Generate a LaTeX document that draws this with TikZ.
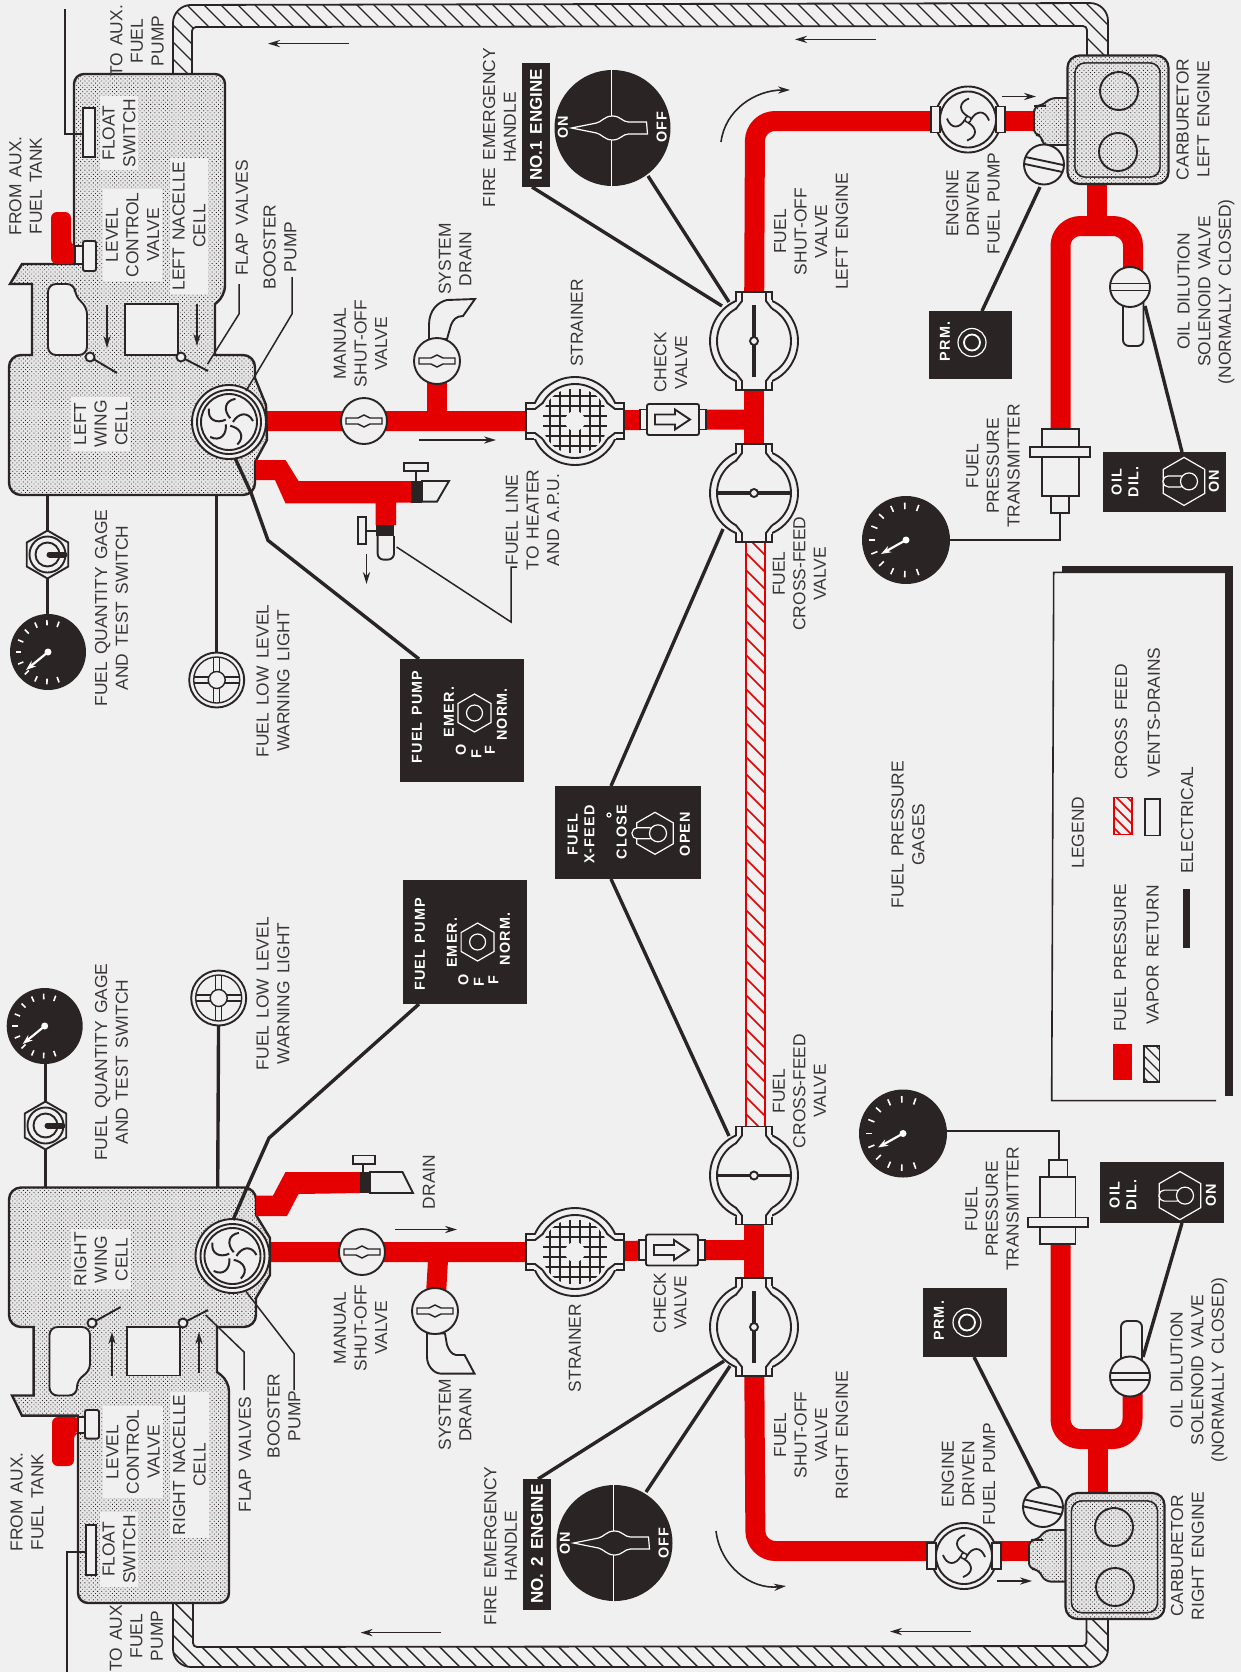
\documentclass[tikz,border=0pt]{standalone}
\usepackage{fontspec}
\setmainfont{Liberation Sans}[WordSpace=1.5]
\newfontfamily\panelfont{Liberation Sans}[LetterSpace=8,WordSpace=1.3]
\usetikzlibrary{arrows.meta,patterns.meta}
\definecolor{bg}{HTML}{F0F0F0}
\definecolor{fuelred}{HTML}{E40000}
\definecolor{ink}{HTML}{2A2425}
\definecolor{txt}{HTML}{3A3638}
\definecolor{tankgray}{HTML}{E6E6E6}
\tikzset{
 lbl/.style={rotate=90,align=center,font=\fontsize{8.7}{10.3}\selectfont,text=txt,inner sep=0pt},
 halo/.style={lbl,fill=bg,inner sep=1.5pt},
 wlbl/.style={rotate=90,align=center,font=\panelfont\fontsize{7.2}{8.4}\selectfont\bfseries,text=white,inner sep=0pt},
 panel/.style={fill=ink,inner sep=0pt},
 fuel/.style={draw=fuelred,line width=10pt,line join=round},
 ol/.style={draw=ink,line width=.95pt},
 olt/.style={draw=ink,line width=.7pt},
 stipple/.style={fill=tankgray,postaction={pattern={Dots[distance=1.5pt,radius=.3pt,angle=45]},pattern color=ink}},
 tank/.style={draw=ink,line width=1.2pt,stipple},
 wirel/.style={draw=ink,line width=1.7pt},
 lead/.style={draw=ink,line width=.75pt},
 flow/.style={draw=ink,line width=.8pt,-{Stealth[length=6pt,width=3.6pt]}},
 wht/.style={draw=white,line width=.6pt}
}
% floating arrow between two named coordinates
\newcommand{\flowarrow}[3]{\coordinate (#1a) at (#2);\coordinate (#1b) at (#3);\draw[flow] (#1a) -- (#1b);}
% double-walled round body with necks top and bottom
\newcommand{\vbody}{%
 \draw[ol,fill=bg] (0,0) circle[radius=44];
 \draw[ol] (0,0) circle[radius=37];
 \foreach \s in {1,-1}{\begin{scope}[yscale=\s]
  \fill[bg] (-17.5,-49) rectangle (17.5,-30);
  \draw[ol] (-18,-41)--(-18,-49)--(18,-49)--(18,-41);
  \draw[ol] (-12,-49)--(-12,-40)--(-18,-32.3);
  \draw[ol] (12,-49)--(12,-40)--(18,-32.3);
 \end{scope}}}
\newcommand{\bigvalve}[2]{\begin{scope}[shift={(#1)}]\vbody
 \begin{scope}[rotate=#2]\draw[draw=ink,line width=1.9pt] (0,-36)--(0,36);\end{scope}
 \draw[ol,fill=bg] (0,0) circle[radius=4];\end{scope}}
\newcommand{\strainer}[1]{\begin{scope}[shift={(#1)},rotate=90]\vbody\end{scope}
 \begin{scope}[shift={(#1)}]\clip (0,0) circle[radius=33];
 \foreach \k in {-25,-15,-5,5,15,25}{\draw[draw=ink,line width=.9pt] (-32,\k)--(32,\k);\draw[draw=ink,line width=.9pt] (\k,-32)--(\k,32);}
 \fill[bg] (0,0) circle[radius=10];\end{scope}}
\newcommand{\fanpump}[1]{\begin{scope}[shift={(#1)}]
 \draw[ol,fill=bg] (0,0) circle[radius=37];
 \draw[ol] (0,0) circle[radius=32];
 \draw[ol] (0,0) circle[radius=28];
 \foreach \a in {0,72,144,216,288}{\draw[draw=ink,line width=1pt,rotate=\a] (4,0) .. controls (9,-9) and (19,-11) .. (24,-1);}
 \end{scope}}
\newcommand{\engpump}[1]{\begin{scope}[shift={(#1)}]
 \draw[ol,fill=bg] (0,0) circle[radius=33];
 \draw[ol] (0,0) circle[radius=28];
 \draw[olt,fill=bg] (-37,-13) rectangle (-28,13);
 \draw[olt,fill=bg] (28,-13) rectangle (37,13);
 \foreach \a in {0,90,180,270}{\draw[draw=ink,line width=.9pt,rotate=\a] (3,0) .. controls (8,-9) and (17,-10) .. (21,1);}
 \draw[olt,fill=bg] (0,0) circle[radius=3];
 \end{scope}}
\newcommand{\manvalve}[1]{\begin{scope}[shift={(#1)}]
 \draw[ol,fill=bg] (0,0) circle[radius=23];
 \draw[olt] (-18,-3)--(-6,-3)..controls (-3,-3) and (-3,-6)..(0,-6)..controls (3,-6) and (3,-3)..(6,-3)--(18,-3)--(18,3)--(6,3)..controls (3,3) and (3,6)..(0,6)..controls (-3,6) and (-3,3)..(-6,3)--(-18,3)--cycle;
 \end{scope}}
\newcommand{\solenoid}[2]{\begin{scope}[shift={(#1)},rotate=#2]
 \draw[ol,fill=bg] (0,0) circle[radius=20];
 \draw[ol] (-20,-3.5)--(20,-3.5);\draw[ol] (-20,3.5)--(20,3.5);
 \end{scope}}
\newcommand{\gauge}[3]{\begin{scope}[shift={(#1)}]
 \fill[ink] (0,0) circle[radius=#2];
 \foreach \a in {70,92,114,136,158,180,202,224,246,268,290}{\draw[draw=white,line width=.8pt] ({-\a}:{0.7*#2})--({-\a}:{0.85*#2});}
 \draw[draw=white,line width=1.1pt,-{Stealth[length=5pt,width=3.5pt]}] (0,0)--(#3);
 \fill[white] (0,0) circle[radius=3.5];
 \end{scope}}
\newcommand{\hexknob}[2]{\begin{scope}[shift={(#1)}]
 \draw[wht] (90:#2)--(150:#2)--(210:#2)--(270:#2)--(330:#2)--(30:#2)--cycle;
 \end{scope}}
% toggle lever inside a hexagon: centre of the collar given
\newcommand{\lever}[1]{\begin{scope}[shift={(#1)}]
 \draw[wht,fill=ink,rounded corners=2.6pt] (-26,-5.5) rectangle (-3,5.5);
 \draw[wht,fill=ink] (0,0) circle[radius=8.5];
 \end{scope}}
\newcommand{\togglesw}[1]{\begin{scope}[shift={(#1)}]
 \draw[ol,fill=bg] (90:24)--(150:24)--(210:24)--(270:24)--(330:24)--(30:24)--cycle;
 \draw[ol] (0,0) circle[radius=18];\draw[ol] (0,0) circle[radius=12];
 \draw[draw=ink,line width=3pt,line cap=round] (2,0)--(17,0);
 \end{scope}}
\newcommand{\lowlight}[1]{\begin{scope}[shift={(#1)}]
 \draw[ol,fill=bg] (0,0) circle[radius=27.5];
 \draw[olt] (0,0) circle[radius=23];
 \foreach \k in {-3,3}{\draw[olt] (-23,\k)--(23,\k);\draw[olt] (\k,-23)--(\k,23);}
 \draw[olt,fill=bg] (0,0) circle[radius=8.5];
 \end{scope}}
\newcommand{\firehandle}[1]{\begin{scope}[shift={(#1)}]
 \fill[ink] (0,0) circle[radius=58];
 \draw[draw=white,line width=.6pt] (-1,-58)--(-1,58);
 \draw[wht,fill=ink] (-41,0)--(-16,-5)..controls (-11,-6) and (-8,-12)..(0,-12)..controls (8,-12) and (10,-6)..(16,-6)--(34,-6)--(35,6)--(16,6)..controls (10,6) and (8,12)..(0,12)..controls (-8,12) and (-11,6)..(-16,5)--cycle;
 \end{scope}}
\newcommand{\checkv}[1]{\begin{scope}[shift={(#1)}]
 \draw[olt,fill=bg] (-33,-10) rectangle (33,10);
 \draw[ol,fill=bg,rounded corners=1pt] (-26,-15.5) rectangle (26,15.5);
 \draw[ol,fill=bg] (-18,-5)--(2,-5)--(2,-10)--(17,0)--(2,10)--(2,5)--(-18,5)--cycle;
 \end{scope}}
\begin{document}
\begin{tikzpicture}[x=0.5pt,y=-0.5pt]
\useasboundingbox (0,0) rectangle (1241,1672);
\fill[bg] (0,0) rectangle (1241,1672);
% ---------- coordinates of the components
\coordinate (boosterL) at (229,422);\coordinate (boostpL) at (229,421);\coordinate (manualL) at (364,421);\coordinate (sysvL) at (437,361);
\coordinate (strainL) at (575,421);\coordinate (checkL) at (673,419.5);\coordinate (juncL) at (755,419.5);
\coordinate (shutL) at (754,341);\coordinate (xvalL) at (754,493);\coordinate (cornerL) at (755,121);
\coordinate (epumpL) at (968,121);\coordinate (epumpLb) at (968,119.5);\coordinate (cneckL) at (1037,121);
\coordinate (cbotL) at (1096.5,184);\coordinate (cforkL) at (1096.5,226);\coordinate (xmtrL) at (1060.5,435);
\coordinate (fkLa) at (1060.5,226);\coordinate (fkLb) at (1133,226);\coordinate (oilvL) at (1130,287);\coordinate (oilpL) at (1133,287);
\coordinate (primeL) at (1044,164.5);
\coordinate (boosterR) at (232.5,1256);\coordinate (boostpR) at (232.5,1252);\coordinate (manualR) at (362,1252);\coordinate (sysvR) at (435,1311);
\coordinate (strainR) at (575,1252);\coordinate (checkR) at (672,1250);\coordinate (juncR) at (755.5,1250);
\coordinate (shutR) at (754,1327);\coordinate (xvalR) at (754,1175.5);\coordinate (cornerR) at (755.5,1551);
\coordinate (epumpR) at (964,1551);\coordinate (epumpRb) at (964,1556);\coordinate (cneckR) at (1033,1551);
\coordinate (cbotR) at (1097.5,1493);\coordinate (cforkR) at (1097.5,1439);\coordinate (xmtrR) at (1060.5,1240);
\coordinate (fkRa) at (1060.5,1439);\coordinate (fkRb) at (1132.5,1439);\coordinate (oilvR) at (1130,1376.5);\coordinate (oilpR) at (1132.5,1376.5);
\coordinate (primeR) at (1043,1507);
\coordinate (sysjL) at (437,421);\coordinate (sysjR) at (438.5,1252);
% ---------- vapour return
\newcommand{\vapU}{(173,74) [rounded corners=9pt] -- (173,5) -- (1108,3) [rounded corners=0pt] -- (1108,57) -- (1087,57) [rounded corners=2pt] -- (1087,26) -- (192,27) [rounded corners=0pt] -- (192,74) -- cycle}
\newcommand{\vapD}{(173,1600) [rounded corners=9pt] -- (173,1667) -- (1108,1667) [rounded corners=0pt] -- (1108,1615) -- (1086.5,1615) [rounded corners=2pt] -- (1086.5,1646) -- (193,1647) [rounded corners=0pt] -- (193,1600) -- cycle}
\begin{scope}\clip \vapU;
 \foreach \i in {60,77,...,1120}{\draw[olt] (\i,-20)--(\i+100,80);}
\end{scope}
\draw[olt,draw=ink,line width=.9pt] \vapU;
\begin{scope}\clip \vapD;
 \foreach \i in {60,77,...,1120}{\draw[olt] (\i,1590)--(\i+90,1680);}
\end{scope}
\draw[olt,draw=ink,line width=.9pt] \vapD;
% ---------- cross feed
\begin{scope}\clip (746,540) rectangle (765,1128);
 \foreach \i in {540,557,...,1130}{\draw[draw=fuelred,line width=.8pt] (740,\i-10)--(770,\i+20);}
\end{scope}
\draw[draw=fuelred,line width=.9pt] (746,540) rectangle (765,1128);
% ---------- fuel lines
\draw[fuel] (boostpL) -- (manualL) -- (strainL) -- (checkL) -- (juncL);
\draw[fuel] (sysjL) -- (sysvL);
\draw[fuel] (xvalL) -- (shutL);
\draw[fuel,rounded corners=10pt] (shutL) -- (cornerL) -- (epumpL);
\draw[fuel] (epumpL) -- (cneckL);
\draw[fuel] (cbotL) -- (cforkL);
\draw[fuel,rounded corners=10pt] (xmtrL) -- (fkLa) -- (fkLb) -- (oilpL);
\draw[fuel] (boostpR) -- (manualR) -- (strainR) -- (checkR) -- (juncR);
\draw[fuel] (sysjR) -- (sysvR);
\draw[fuel] (xvalR) -- (shutR);
\draw[fuel,rounded corners=10pt] (shutR) -- (cornerR) -- (epumpR);
\draw[fuel] (epumpR) -- (cneckR);
\draw[fuel] (cbotR) -- (cforkR);
\draw[fuel,rounded corners=10pt] (xmtrR) -- (fkRa) -- (fkRb) -- (oilpR);
% ---------- tanks, left
\path[tank,rounded corners=5pt] (74,264)--(74,74)--(225,74)--(225,296)[rounded corners=0pt]--(215,304)--(215,355)[rounded corners=6pt]--(255,355)[rounded corners=0pt]--(255,378)--(266,405)--(267,440)--(255,462)[rounded corners=6pt]--(255,495)--(9,495)--(9,355)[rounded corners=0pt]--(32,355)--(32,284)--(10,284)--(22,264)--cycle;
\draw[ol,fill=bg,rounded corners=4pt] (48,355)--(48,284)--(75,284)--(75,297)--(87,306)--(87,355)--cycle;
\draw[ol,fill=bg] (125,304) rectangle (178,355);
\flowarrow{fa1}{107,305}{107,348}
\flowarrow{fa2}{197,304}{197,346}
% tanks, right
\path[tank,rounded corners=5pt] (78,1415.6)--(78,1603)--(229,1603)--(229,1381)[rounded corners=0pt]--(217,1372)--(217,1327)[rounded corners=6pt]--(256,1327)[rounded corners=0pt]--(256,1298)--(270,1275)--(270,1238)--(256,1215)[rounded corners=6pt]--(256,1187.5)--(9,1187.5)--(9,1327)[rounded corners=0pt]--(33.6,1327)--(33.6,1395.5)--(12,1395.5)--(22,1415.6)--cycle;
\draw[ol,fill=bg,rounded corners=4pt] (49.5,1327)--(49.5,1395.5)--(77,1395.5)--(77,1379)--(90,1372)--(90,1327)--cycle;
\draw[ol,fill=bg] (127,1327) rectangle (180,1375.5);
\flowarrow{fa3}{112,1375.5}{112,1332}
\flowarrow{fa4}{199,1373}{199,1332}
% flap valves
\coordinate (flA) at (90,357);\coordinate (flAe) at (117,373);\coordinate (flB) at (181,357);\coordinate (flBe) at (208,371);
\coordinate (flC) at (92,1323);\coordinate (flCe) at (120.6,1307);\coordinate (flD) at (183,1323);\coordinate (flDe) at (208,1310);
\foreach \p/\q in {flA/flAe,flB/flBe,flC/flCe,flD/flDe}{\draw[ol] (\p)--(\q);\draw[ol,fill=bg] (\p) circle[radius=4.5];}
% float switches, level valves
\draw[ol,fill=bg] (83,108) rectangle (95,157);
\draw[ol,fill=bg] (86,1525) rectangle (96,1575);
\coordinate (flsL) at (83,134);\coordinate (flsLc) at (64.5,134);\coordinate (flsLe) at (64.5,9);
\draw[ol,draw=ink,line width=1pt] (flsL)--(flsLc)--(flsLe);
\coordinate (flsR) at (86,1552.4);\coordinate (flsRc) at (67,1552.4);\coordinate (flsRe) at (67,1672);
\draw[ol,draw=ink,line width=1pt] (flsR)--(flsRc)--(flsRe);
\fill[fuelred,rounded corners=3pt] (51,212)--(51,264)--(76,264)--(76,246)--(71,246)--(71,212)--cycle;
\draw[ol,fill=bg] (75,246) rectangle (83,264);
\draw[ol,fill=bg,rounded corners=1pt] (83,241) rectangle (96,271);
\fill[fuelred,rounded corners=3pt] (52,1466)--(52,1417)--(80,1417)--(80,1433)--(74,1433)--(74,1466)--cycle;
\draw[ol,fill=bg] (78,1417) rectangle (85,1433);
\draw[ol,fill=bg,rounded corners=1pt] (85,1410) rectangle (99,1438.6);
% ---------- drains
\fill[fuelred] (256,460)--(285.5,460)--(298.5,481)--(411,481)--(411,502.5)--(396,502.5)--(396,525)--(375.6,525)--(375.6,503.4)--(285.5,503.4)--(275,480)--(256,480)--cycle;
\fill[ink] (411,481) rectangle (422,502.5);
\fill[ink] (375.6,525) rectangle (394,536);
\draw[ol,fill=bg] (422,481)--(449,481)--(437,501.6)--(422,501.6)--cycle;
\draw[ol] (416,481)--(416,471);\draw[ol,fill=bg] (404,463) rectangle (428,471);
\draw[ol,fill=bg,rounded corners=3pt] (377.6,536)--(377.6,559.6)--(394,559.6)--(394,536);
\draw[ol] (375.6,530.6)--(366,530.6);\draw[ol,fill=bg] (358,517) rectangle (366,543.6);
\fill[fuelred] (256,1195.6)--(273,1195.6)--(285.5,1172)--(360,1172)--(360,1193)--(298.5,1194)--(287,1216)--(256,1216)--cycle;
\fill[ink] (360,1172) rectangle (370,1193);
\draw[ol,fill=bg] (370,1172)--(402.5,1172)--(413,1193)--(370,1193)--cycle;
\draw[ol] (363,1172)--(363,1164);\draw[ol,fill=bg] (353,1155.5) rectangle (375,1164);
\draw[ol,fill=bg] (429,339)--(429,325)..controls (429,310) and (438,302)..(447,300)--(475,299)--(463,316)..controls (456,316) and (453,320)..(451,325)--(447,339)--cycle;
\draw[ol,fill=bg] (427,1333.5)--(427,1357)..controls (427,1366) and (434,1373.6)..(441,1373.6)--(474.5,1373.6)--(464.6,1355)--(456,1355)..controls (451,1354) and (449,1350)..(447,1345)--(445,1333.5)--cycle;
% ---------- components
\fanpump{boosterL}\fanpump{boosterR}
\manvalve{manualL}\manvalve{manualR}\manvalve{sysvL}\manvalve{sysvR}
\strainer{strainL}\strainer{strainR}
\checkv{checkL}\checkv{checkR}
\bigvalve{shutL}{0}\bigvalve{xvalL}{90}\bigvalve{shutR}{0}\bigvalve{xvalR}{90}
\engpump{epumpLb}\engpump{epumpRb}
% carburetors
\path[ol,stipple,rounded corners=3pt] (1040,106)--(1034,106)--(1034,135)--(1042,135)--(1042,145)--(1075,145)--(1075,98)--(1050,98)--(1042,106)--cycle;
\path[draw=ink,line width=1.1pt,stipple,rounded corners=6pt] (1067.5,55.5) rectangle (1168.5,184);
\draw[olt,fill=tankgray,rounded corners=5pt] (1075,63) rectangle (1160,177);
\path[olt,stipple,rounded corners=5pt] (1075,63) rectangle (1160,177);
\draw[ol] (1119,91) circle[radius=19];\draw[ol] (1118,152) circle[radius=19];
\path[ol,stipple,rounded corners=3pt] (1037,1540)--(1029,1540)--(1029,1569)--(1038,1569)--(1045,1581.6)--(1072,1581.6)--(1072,1530)--(1045,1530)--(1038,1540)--cycle;
\path[draw=ink,line width=1.1pt,stipple,rounded corners=6pt] (1065.5,1493) rectangle (1164.5,1619);
\draw[olt,fill=tankgray,rounded corners=5pt] (1071.5,1501) rectangle (1157.5,1612.6);
\path[olt,stipple,rounded corners=5pt] (1071.5,1501) rectangle (1157.5,1612.6);
\draw[ol] (1114,1527) circle[radius=19];\draw[ol] (1115,1587) circle[radius=19];
\solenoid{primeL}{-12}\solenoid{primeR}{-12}
% oil dilution valves
\draw[ol,fill=bg,rounded corners=3pt] (1123,300)--(1123,346)--(1143.5,346)--(1143.5,300);
\solenoid{oilvL}{0}
\draw[ol,fill=bg,rounded corners=3pt] (1121,1365)--(1121,1321)--(1142,1321)--(1142,1365);
\solenoid{oilvR}{0}
% transmitters
\draw[ol,fill=bg] (1051,496) rectangle (1069,513);
\draw[ol,fill=bg] (1042,429) rectangle (1079,496);
\draw[ol,fill=bg] (1030,447) rectangle (1090,457);
\draw[ol,fill=bg] (1049,1160) rectangle (1067.5,1177);
\draw[ol,fill=bg] (1040,1177) rectangle (1075.5,1244);
\draw[ol,fill=bg] (1028,1217.5) rectangle (1088,1227);
% ---------- panels
\node[panel,minimum width=41.5pt,minimum height=34pt] (prmL) at (970.5,345) {};
\node[panel,minimum width=42pt,minimum height=34.5pt] (prmR) at (965,1322.5) {};
\node[panel,minimum width=61.5pt,minimum height=30.2pt] (oilL) at (1164.5,482) {};
\node[panel,minimum width=62pt,minimum height=30.5pt] (oilR) at (1162,1192.5) {};
\node[panel,minimum width=62pt,minimum height=61.5pt] (fpL) at (462,720.5) {};
\node[panel,minimum width=62pt,minimum height=62pt] (fpR) at (465,942) {};
\node[panel,minimum width=73pt,minimum height=46.5pt] (xfeed) at (628,832.5) {};
\draw[wht] (972,342.5) circle[radius=14];\draw[draw=white,line width=.9pt] (972,342.5) circle[radius=8];
\draw[wht] (967,1322.5) circle[radius=14];\draw[draw=white,line width=.9pt] (967,1322.5) circle[radius=8];
\node[wlbl] (tprmL) at (945,341.5) {PRM.};
\node[wlbl] (tprmR) at (939,1320.7) {PRM.};
\node[wlbl] (toilL) at (1125,482) {OIL\\DIL.};
\node[wlbl] (toilR) at (1123,1195) {OIL\\DIL.};
\node[wlbl] (tonL) at (1214,481) {ON};
\node[wlbl] (tonR) at (1211,1195) {ON};
\hexknob{1184,481.4}{24}\hexknob{1180,1195.6}{24}\hexknob{655,833.3}{21}
\lever{1189,481.4}\lever{1185,1195.6}\lever{658,833.3}
\node[wlbl] (tfxa) at (581,834.5) {FUEL\\X-FEED};
\node[wlbl] (tfxb) at (621.7,832.3) {CLOSE};
\node[wlbl] (tfxc) at (685,834) {OPEN};
\draw[wht] (609,815) circle[radius=2];
\hexknob{474.5,713}{19}\hexknob{477.6,942}{19}
\draw[wht] (474.5,713) circle[radius=8];\draw[wht] (477.6,942) circle[radius=8];
\node[wlbl] (tfpLa) at (417,717) {FUEL PUMP};
\node[wlbl] (tfpLb) at (449,712) {EMER.};
\node[wlbl] (tfpLc) at (502,714.5) {NORM.};
\node[wlbl] (tfpLd) at (461,750) {O};\node[wlbl] (tfpLe) at (476.5,754) {F};\node[wlbl] (tfpLf) at (490,750) {F};
\node[wlbl] (tfpRa) at (420,944.5) {FUEL PUMP};
\node[wlbl] (tfpRb) at (452,942.7) {EMER.};
\node[wlbl] (tfpRc) at (505,938.7) {NORM.};
\node[wlbl] (tfpRd) at (463.4,980) {O};\node[wlbl] (tfpRe) at (479,982.4) {F};\node[wlbl] (tfpRf) at (493.5,980) {F};
\firehandle{612.5,128}\firehandle{614.5,1543}
\node[wlbl] (onL) at (563,127) {ON};\node[wlbl] (ofL) at (661.7,127) {OFF};
\node[wlbl] (onR) at (565,1543) {ON};\node[wlbl] (ofR) at (663.7,1543) {OFF};
\node[panel,rotate=90,minimum width=62pt,minimum height=14pt,text=white,font=\fontsize{8.5}{10}\selectfont\bfseries] (no1) at (536,125) {NO.1 ENGINE};
\node[panel,rotate=90,minimum width=65.5pt,minimum height=14pt,text=white,font=\fontsize{8.5}{10}\selectfont\bfseries] (no2) at (537,1544) {NO. 2 ENGINE};
% ---------- gauges and lamps
\gauge{906,540}{44}{-25,14}\gauge{903,1133.5}{44}{-25,14}
\gauge{48,652}{38}{-22,18}\gauge{44.7,1026}{38}{-22,18}
\coordinate (gfpL) at (949,540);\coordinate (xbL) at (1060,513);\coordinate (xcL) at (1060,540);
\draw[draw=ink,line width=1.2pt] (gfpL)--(xcL)--(xbL);
\coordinate (gfpR) at (946,1131);\coordinate (xbR) at (1059,1160);\coordinate (xcR) at (1059,1131);
\draw[draw=ink,line width=1.2pt] (gfpR)--(xcR)--(xbR);
\coordinate (qtL) at (47.5,495);\coordinate (qgL) at (47.5,620);
\coordinate (qtR) at (45.5,1187.5);\coordinate (qgR) at (45.5,1060);
\draw[draw=ink,line width=1.5pt] (qtL)--(qgL);\draw[draw=ink,line width=1.5pt] (qtR)--(qgR);
\coordinate (tgL) at (47.5,554.5);\coordinate (tgR) at (45.5,1125.5);
\togglesw{tgL}\togglesw{tgR}
\coordinate (lwL) at (216.7,680);\coordinate (lwR) at (218.7,998);
\coordinate (ltL) at (216.7,495);\coordinate (ltR) at (217.7,1187.5);
\draw[wirel] (ltL)--(lwL);\draw[wirel] (ltR)--(lwR);
\lowlight{lwL}\lowlight{lwR}
% ---------- wires
\coordinate (w1a) at (235,458);\coordinate (w1b) at (251,492.7);\coordinate (w1c) at (268,540.4);\coordinate (w1d) at (419,659);
\draw[wirel,line join=round] (w1a)--(w1b)--(w1c)--(w1d);
\coordinate (w2a) at (233,1220);\coordinate (w2b) at (247,1187.5);\coordinate (w2c) at (269,1138);\coordinate (w2d) at (419,1004);
\draw[wirel,line join=round] (w2a)--(w2b)--(w2c)--(w2d);
\coordinate (w3a) at (723,529);\coordinate (w3b) at (611,786);\draw[wirel] (w3a)--(w3b);
\coordinate (w4a) at (729,1136);\coordinate (w4b) at (611,879);\draw[wirel] (w4a)--(w4b);
\coordinate (w5a) at (532,187);\coordinate (w5b) at (722,306);\draw[wirel] (w5a)--(w5b);
\coordinate (w6a) at (648,176);\coordinate (w6b) at (729,302);\draw[wirel] (w6a)--(w6b);
\coordinate (w7a) at (538,1479);\coordinate (w7b) at (724,1361);\draw[wirel] (w7a)--(w7b);
\coordinate (w8a) at (646,1492);\coordinate (w8b) at (730,1366);\draw[wirel] (w8a)--(w8b);
\coordinate (w9a) at (1040,187);\coordinate (w9b) at (982,311);\draw[wirel] (w9a)--(w9b);
\coordinate (w10a) at (1145,306);\coordinate (w10b) at (1182,452);\draw[wirel] (w10a)--(w10b);
\coordinate (w11a) at (974,1357);\coordinate (w11b) at (1040,1487);\draw[wirel] (w11a)--(w11b);
\coordinate (w12a) at (1143,1357);\coordinate (w12b) at (1182,1223);\draw[wirel] (w12a)--(w12b);
% leaders
\coordinate (ld1a) at (246,391);\coordinate (ld1b) at (292,314);\coordinate (ld1c) at (292,277);\draw[lead] (ld1a)--(ld1b)--(ld1c);
\coordinate (ld2a) at (207.6,364);\coordinate (ld2b) at (239,314);\coordinate (ld2c) at (239,284);\draw[lead] (ld2a)--(ld2b)--(ld2c);
\coordinate (ld3a) at (246,1291.5);\coordinate (ld3b) at (294,1353.5);\coordinate (ld3c) at (294,1390);\draw[lead] (ld3a)--(ld3b)--(ld3c);
\coordinate (ld4a) at (205.6,1315);\coordinate (ld4b) at (244,1352);\coordinate (ld4c) at (244,1390);\draw[lead] (ld4a)--(ld4b)--(ld4c);
\coordinate (ld5a) at (396.6,547);\coordinate (ld5b) at (511,622);\coordinate (ld5c) at (511,567);\coordinate (ld5d) at (517,567);\draw[lead] (ld5a)--(ld5b)--(ld5c)--(ld5d);
% ---------- arrows
\flowarrow{ar1}{349,43.6}{268,43.6}
\flowarrow{ar2}{875.5,39.4}{795,39.4}
\flowarrow{ar3}{441,1632.6}{360.6,1632.6}
\flowarrow{ar4}{970.5,1631.5}{890,1631.5}
\flowarrow{ar5}{419,440}{496,440}
\flowarrow{ar6}{395,1229.5}{457,1229.5}
\flowarrow{ar7}{1002,96.5}{1036,96.5}
\flowarrow{ar8}{997,1581}{1032,1581}
\flowarrow{ar9}{366.5,554}{366.5,584}
\coordinate (ca1) at (721,142);\coordinate (ca2) at (790,90);
\draw[flow] (ca1) .. controls (725,110) and (755,90) .. (ca2);
\coordinate (ca3) at (716,1531);\coordinate (ca4) at (786,1586);
\draw[flow] (ca3) .. controls (720,1565) and (750,1590) .. (ca4);
% ---------- labels in the tanks
\node[halo] (l1) at (119,133) {FLOAT\\SWITCH};
\node[halo] (l2) at (132.5,235) {LEVEL\\CONTROL\\VALVE};
\node[halo] (l3) at (189,226) {LEFT NACELLE\\CELL};
\node[halo] (l4) at (100.8,424) {LEFT\\WING\\CELL};
\node[halo] (l5) at (119,1549.5) {FLOAT\\SWITCH};
\node[halo] (l6) at (133,1452) {LEVEL\\CONTROL\\VALVE};
\node[halo] (l7) at (189.4,1465) {RIGHT NACELLE\\CELL};
\node[halo] (l8) at (101,1259.4) {RIGHT\\WING\\CELL};
% ---------- labels
\node[lbl] (t1) at (137,41) {TO AUX.\\FUEL\\PUMP};
\node[lbl] (t2) at (25.7,186) {FROM AUX.\\FUEL TANK};
\node[lbl] (t3) at (242,218) {FLAP VALVES};
\node[lbl] (t4) at (280,247) {BOOSTER\\PUMP};
\node[lbl] (t5) at (360.6,343.6) {MANUAL\\SHUT-OFF\\VALVE};
\node[lbl] (t6) at (455,259) {SYSTEM\\DRAIN};
\node[lbl] (t7) at (577,323) {STRAINER};
\node[lbl] (t8) at (499.4,127.6) {FIRE EMERGENCY\\HANDLE};
\node[lbl] (t9) at (532.6,520) {FUEL LINE\\TO HEATER\\AND A.P.U.};
\node[lbl] (t10) at (111.5,608) {FUEL QUANTITY GAGE\\AND TEST SWITCH};
\node[lbl] (t11) at (273,681) {FUEL LOW LEVEL\\WARNING LIGHT};
\node[lbl] (t12) at (111.5,1062) {FUEL QUANTITY GAGE\\AND TEST SWITCH};
\node[lbl] (t13) at (273,993.6) {FUEL LOW LEVEL\\WARNING LIGHT};
\node[lbl] (t14) at (799.4,573.6) {FUEL\\CROSS-FEED\\VALVE};
\node[lbl] (t15) at (799.4,1091) {FUEL\\CROSS-FEED\\VALVE};
\node[lbl] (t16) at (811,231.5) {FUEL\\SHUT-OFF\\VALVE\\LEFT ENGINE};
\node[lbl] (t17) at (670.7,362.4) {CHECK\\VALVE};
\node[lbl] (t18) at (973,203.6) {ENGINE\\DRIVEN\\FUEL PUMP};
\node[lbl] (t19) at (1193,119.4) {CARBURETOR\\LEFT ENGINE};
\node[lbl] (t20) at (1206,291.6) {OIL DILUTION\\SOLENOID VALVE\\(NORMALLY CLOSED)};
\node[lbl] (t21) at (993,466) {FUEL\\PRESSURE\\TRANSMITTER};
\node[lbl] (t22) at (992,1209) {FUEL\\PRESSURE\\TRANSMITTER};
\node[lbl] (t23) at (1199,1370) {OIL DILUTION\\SOLENOID VALVE\\(NORMALLY CLOSED)};
\node[lbl] (t24) at (811,1435) {FUEL\\SHUT-OFF\\VALVE\\RIGHT ENGINE};
\node[lbl] (t25) at (968.5,1474) {ENGINE\\DRIVEN\\FUEL PUMP};
\node[lbl] (t26) at (1187.5,1556) {CARBURETOR\\RIGHT ENGINE};
\node[lbl] (t27) at (670,1303) {CHECK\\VALVE};
\node[lbl] (t28) at (136.4,1636) {TO AUX.\\FUEL\\PUMP};
\node[lbl] (t29) at (27,1502) {FROM AUX.\\FUEL TANK};
\node[lbl] (t30) at (245,1454.6) {FLAP VALVES};
\node[lbl] (t31) at (284,1416) {BOOSTER\\PUMP};
\node[lbl] (t32) at (360.6,1328) {MANUAL\\SHUT-OFF\\VALVE};
\node[lbl] (t33) at (455,1414.5) {SYSTEM\\DRAIN};
\node[lbl] (t34) at (575,1348) {STRAINER};
\node[lbl] (t35) at (500.6,1546) {FIRE EMERGENCY\\HANDLE};
\node[lbl] (t36) at (429,1182) {DRAIN};
\node[lbl] (t37) at (908,834.6) {FUEL PRESSURE\\GAGES};
% ---------- legend
\fill[ink] (1061.6,566) rectangle (1233,572.4);
\fill[ink] (1225,566) rectangle (1233,1095.5);
\coordinate (lgA) at (1226,572.4);\coordinate (lgB) at (1053.7,572.4);\coordinate (lgC) at (1051.7,1100.6);\coordinate (lgD) at (1216,1100.6);
\draw[draw=ink,line width=.8pt] (lgA)--(lgB)--(lgC)--(lgD);
\node[lbl] (lg0) at (1078,832.5) {LEGEND};
\node[lbl] (lg1) at (1121,722) {CROSS FEED};
\node[lbl] (lg2) at (1154,712.5) {VENTS-DRAINS};
\node[lbl] (lg3) at (1187,820) {ELECTRICAL};
\node[lbl] (lg4) at (1120,958) {FUEL PRESSURE};
\node[lbl] (lg5) at (1152.7,955) {VAPOR RETURN};
\fill[fuelred] (1113,1044) rectangle (1132,1079.5);
\begin{scope}\clip (1144,1046) rectangle (1159.4,1082);
 \foreach \i in {1030,1041,...,1085}{\draw[olt] (1140,\i)--(1165,\i+25);}\end{scope}
\draw[olt] (1144,1046) rectangle (1159.4,1082);
\begin{scope}\clip (1114,797.6) rectangle (1132,834.6);
 \foreach \i in {780,791,...,840}{\draw[draw=fuelred,line width=.8pt] (1110,\i)--(1136,\i+26);}\end{scope}
\draw[draw=fuelred,line width=.8pt] (1114,797.6) rectangle (1132,834.6);
\draw[olt,fill=bg] (1145,799) rectangle (1160,835.4);
\fill[ink] (1183,889) rectangle (1189.5,948);
\end{tikzpicture}
\end{document}
